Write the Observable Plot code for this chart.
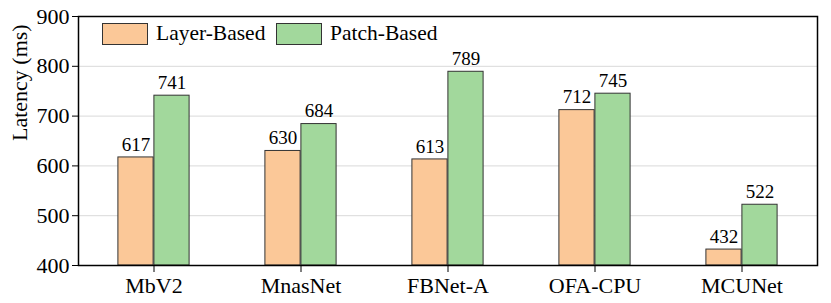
<!DOCTYPE html>
<html><head><meta charset="utf-8">
<script src="https://cdn.jsdelivr.net/npm/d3@7"></script>
<script src="https://cdn.jsdelivr.net/npm/@observablehq/plot@0.6"></script>
<style>
body{margin:0;background:#fff;font-family:"Liberation Serif",serif;}
#wrap{position:relative;width:831px;height:303px;}
#wrap svg, #wrap svg text{font-family:"Liberation Serif",serif !important;}
.leg{position:absolute;top:21px;display:flex;align-items:center;font-size:21.5px;color:#000;}
.sw{width:46px;height:22px;border:1px solid #333;box-sizing:border-box;margin-right:8px;}
</style></head>
<body><div id="wrap"></div>
<script>
const models = ["MbV2","MnasNet","FBNet-A","OFA-CPU","MCUNet"];
const layerBased = [617,630,613,712,432];
const patchBased = [741,684,789,745,522];
const yTicks = [400,500,600,700,800,900];
const seriesNames = ["Layer-Based","Patch-Based"];
const colors = ["#fbc898","#a2d89c"];

const rows = [];
models.forEach((m,i)=>{
  rows.push({model:m, series:seriesNames[0], value:layerBased[i]});
  rows.push({model:m, series:seriesNames[1], value:patchBased[i]});
});
const L = rows.filter(d=>d.series===seriesNames[0]);
const P = rows.filter(d=>d.series===seriesNames[1]);

const W=831,H=303, ml=78, mr=14, mt=16, mb=38;
const band=(W-ml-mr)/models.length, bw=36;

const chart = Plot.plot({
  width:W, height:H,
  marginLeft:ml, marginRight:mr, marginTop:mt, marginBottom:mb,
  style:{fontFamily:"'Liberation Serif', serif", fontSize:"22px", color:"#000", background:"#fff"},
  x:{domain:models, padding:0, label:null},
  y:{domain:[400,900], label:null},
  marks:[
    Plot.gridY(yTicks.slice(1,-1), {stroke:"#d9d9d9", strokeOpacity:1, strokeWidth:1}),
    Plot.barY(L, {x:"model", y1:400, y2:"value", fill:colors[0], stroke:"#333", strokeWidth:1, insetLeft:band/2-bw, insetRight:band/2}),
    Plot.barY(P, {x:"model", y1:400, y2:"value", fill:colors[1], stroke:"#333", strokeWidth:1, insetLeft:band/2, insetRight:band/2-bw}),
    Plot.text(L, {x:"model", y:"value", text:d=>String(d.value), dx:-bw/2, dy:-13, fontSize:19}),
    Plot.text(P, {x:"model", y:"value", text:d=>String(d.value), dx:bw/2, dy:-13, fontSize:19}),
    Plot.frame({stroke:"#000", strokeWidth:1.5}),
    Plot.axisX({tickSize:7, tickPadding:5, fontSize:22, label:null}),
    Plot.axisY({ticks:yTicks, tickSize:6, tickPadding:3, fontSize:22, label:null}),
    Plot.text(["Latency (ms)"], {frameAnchor:"left", dx:-59, rotate:-90, fontSize:22})
  ]
});
const wrap=document.getElementById("wrap");
wrap.appendChild(chart);
const pos=[102,276];
seriesNames.forEach((s,i)=>{
  const d=document.createElement("div");
  d.className="leg"; d.style.left=pos[i]+"px";
  d.innerHTML=`<div class="sw" style="background:${colors[i]}"></div><span>${s}</span>`;
  wrap.appendChild(d);
});
</script></body></html>
